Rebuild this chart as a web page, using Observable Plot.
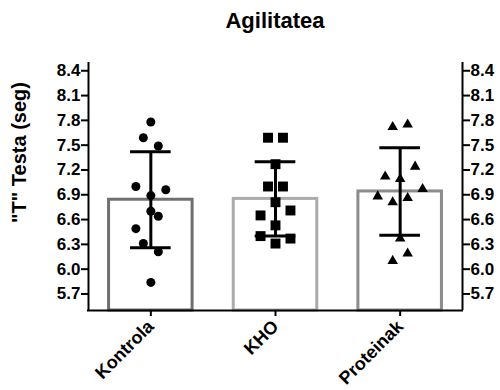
<!DOCTYPE html>
<html>
<head>
<meta charset="utf-8">
<script src="https://cdn.jsdelivr.net/npm/d3@7"></script>
<script src="https://cdn.jsdelivr.net/npm/@observablehq/plot@0.6"></script>
<style>
  body { margin: 0; background: #fff; width: 500px; height: 390px; overflow: hidden; }
  #title {
    box-sizing: border-box;
    height: 50px;
    padding: 9px 38px 0 88px;
    text-align: center;
    font: bold 22px "Liberation Sans", Arial, sans-serif;
    line-height: 24px;
    color: #000;
  }
  #chart svg [aria-label="y-axis tick label"] text { font-size: 17px !important; }
  #chart svg [aria-label="x-axis tick label"] text { font-size: 18px !important; }
</style>
</head>
<body>
<div id="title">Agilitatea</div>
<div id="chart"></div>
<script>
// Groups, group means and standard deviations
const groups = ["Kontrola", "KHO", "Proteinak"];
const means = [6.84, 6.85, 6.94];
const sds = [0.58, 0.45, 0.53];

// Individual measurements per group, with the scatter column each point sits in
const kontrola = [7.78, 7.59, 7.49, 7.00, 6.96, 6.89, 6.70, 6.64, 6.49, 6.31, 6.21, 5.84];
const kontrolaLane = [0, -1, 1, -2, 2, 0, 0, 1, -2, -1, 1, 0];
const kho = [7.59, 7.59, 7.27, 7.00, 7.00, 6.81, 6.65, 6.71, 6.53, 6.40, 6.37, 6.31];
const khoLane = [-1, 1, 0, -1, 1, 0, -2, 2, 0, -2, 2, 0];
const proteinak = [7.72, 7.75, 7.24, 7.12, 7.09, 6.97, 6.88, 6.81, 6.86, 6.37, 6.19, 6.10];
const proteinakLane = [-1, 1, 2, -2, 0, 3, -3, -1, 1, 0, 1, -1];

// Axis ticks
const yTicks = [5.7, 6.0, 6.3, 6.6, 6.9, 7.2, 7.5, 7.8, 8.1, 8.4];
const yLabel = "\"T\" Testa (seg)";

const yMin = 5.5, yMax = 8.5;
const barHalf = 0.335, capHalf = 0.163, laneStep = 0.06;
const barColors = ["#6f6f6f", "#ababab", "#8c8c8c"];

const summary = groups.map((g, i) => ({i, group: g, mean: means[i], sd: sds[i]}));
const points = (vals, lanes, i) => vals.map((v, k) => ({i, value: v, x: i + lanes[k] * laneStep}));
const ptsK = points(kontrola, kontrolaLane, 0);
const ptsH = points(kho, khoLane, 1);
const ptsP = points(proteinak, proteinakLane, 2);

const axisStyle = {
  tickSize: 7, tickPadding: 1, strokeWidth: 2, label: null,
  ticks: yTicks, tickFormat: d3.format(".1f")
};

const chart = Plot.plot({
  width: 500,
  height: 340,
  marginTop: 12,
  marginBottom: 80,
  marginLeft: 88,
  marginRight: 38,
  x: {type: "linear", domain: [-0.5, 2.5]},
  y: {domain: [yMin, yMax]},
  style: {
    fontFamily: "'Liberation Sans', Arial, sans-serif",
    fontSize: "16px",
    fontWeight: "bold",
    color: "#000",
    background: "#fff",
    overflow: "visible"
  },
  marks: [
    Plot.rect(summary, {
      x1: d => d.i - barHalf, x2: d => d.i + barHalf,
      y1: yMin, y2: "mean",
      fill: "#fff", stroke: d => barColors[d.i], strokeWidth: 3
    }),
    Plot.ruleX(summary, {x: "i", y1: d => d.mean - d.sd, y2: d => d.mean + d.sd, stroke: "#000", strokeWidth: 3}),
    Plot.ruleY(summary, {y: d => d.mean + d.sd, x1: d => d.i - capHalf, x2: d => d.i + capHalf, stroke: "#000", strokeWidth: 3}),
    Plot.ruleY(summary, {y: d => d.mean - d.sd, x1: d => d.i - capHalf, x2: d => d.i + capHalf, stroke: "#000", strokeWidth: 3}),
    Plot.dot(ptsK, {x: "x", y: "value", symbol: "circle", r: 4.5, fill: "#000"}),
    Plot.dot(ptsH, {x: "x", y: "value", symbol: "square", r: 5.6, fill: "#000"}),
    Plot.dot(ptsP, {x: "x", y: "value", symbol: "triangle", r: 3.9, fill: "#000"}),
    Plot.axisY({anchor: "left", ...axisStyle}),
    Plot.axisY({anchor: "right", ...axisStyle}),
    Plot.axisX({
      ticks: [0, 1, 2], tickFormat: i => groups[i], tickRotate: -45,
      tickSize: 6, tickPadding: 7, strokeWidth: 2, label: null
    }),
    Plot.ruleX([-0.5, 2.5], {y1: yMin, y2: yMax, stroke: "#000", strokeWidth: 2}),
    Plot.ruleY([yMin], {x1: -0.5, x2: 2.5, stroke: "#000", strokeWidth: 2, strokeLinecap: "square"}),
    Plot.text([yLabel], {
      text: d => d, frameAnchor: "top-left", dx: -69, dy: 90,
      rotate: -90, textAnchor: "middle", lineAnchor: "middle", fontSize: 20
    })
  ]
});
document.getElementById("chart").append(chart);
</script>
</body>
</html>
